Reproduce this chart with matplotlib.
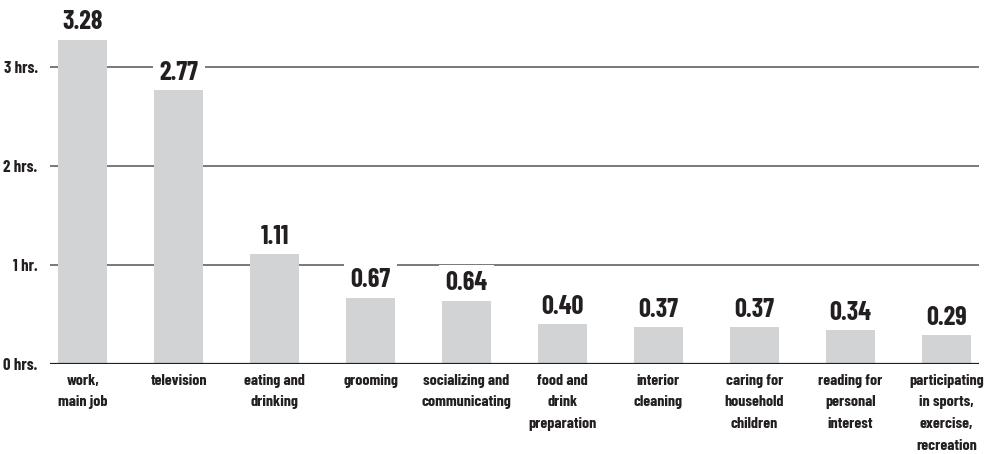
import matplotlib.pyplot as plt
from matplotlib import font_manager
import numpy as np

categories = ["work,\nmain job", "television", "eating and\ndrinking", "grooming",
              "socializing and\ncommunicating", "food and\ndrink\npreparation",
              "interior\ncleaning", "caring for\nhousehold\nchildren",
              "reading for\npersonal\ninterest",
              "participating\nin sports,\nexercise,\nrecreation"]
hours = [3.28, 2.77, 1.11, 0.67, 0.64, 0.40, 0.37, 0.37, 0.34, 0.29]
tick_values = [0, 1, 2, 3]
tick_labels = ["0 hrs.", "1 hr.", "2 hrs.", "3 hrs."]

# condensed bold face, closest to the original type
installed = {f.name for f in font_manager.fontManager.ttflist}
wanted = ["Barlow Condensed", "PT Sans Narrow", "Roboto Condensed",
          "Liberation Sans Narrow"]
family = [f for f in wanted if f in installed][:1] + ["DejaVu Sans"]
plt.rcParams['font.family'] = family

text_color = "#231f20"
bar_color = "#d1d3d4"
grid_color = "#6d6e71"

fig = plt.figure(figsize=(9.89, 4.54), dpi=100)
ax = fig.add_axes([50 / 989, 90 / 454, 929 / 989, 364 / 454])

x = np.arange(len(hours))
ax.bar(x, hours, width=0.51, color=bar_color, zorder=3)

for v in tick_values[1:]:
    ax.axhline(v, color=grid_color, lw=1.3, zorder=1)
ax.axhline(0, color=text_color, lw=1.6, zorder=4)

for i, v in enumerate(hours):
    # white box breaks the gridline behind the number, but stays under the bars
    ax.annotate(f"{v:.2f}", (i, v), xytext=(0, 7.5), textcoords="offset points",
                ha="center", va="baseline", fontsize=19, fontweight="bold",
                color=text_color, zorder=2,
                bbox=dict(boxstyle="square,pad=0.25", fc="white", ec="none"))
    ax.annotate(categories[i], (i, 0), xytext=(0, -7), textcoords="offset points",
                ha="center", va="top", fontsize=11.5, fontweight="bold",
                color=text_color, linespacing=1.7, annotation_clip=False)

ax.set_xlim(-0.34, len(hours) - 1 + 0.34)
ax.set_ylim(0, 3.68)
ax.set_yticks(tick_values)
ax.set_yticklabels(tick_labels, fontsize=12, fontweight="bold", color=text_color)
ax.tick_params(axis="y", length=0, pad=9)
ax.set_xticks([])
for s in ax.spines.values():
    s.set_visible(False)

fig.savefig("out.png", dpi=100)
